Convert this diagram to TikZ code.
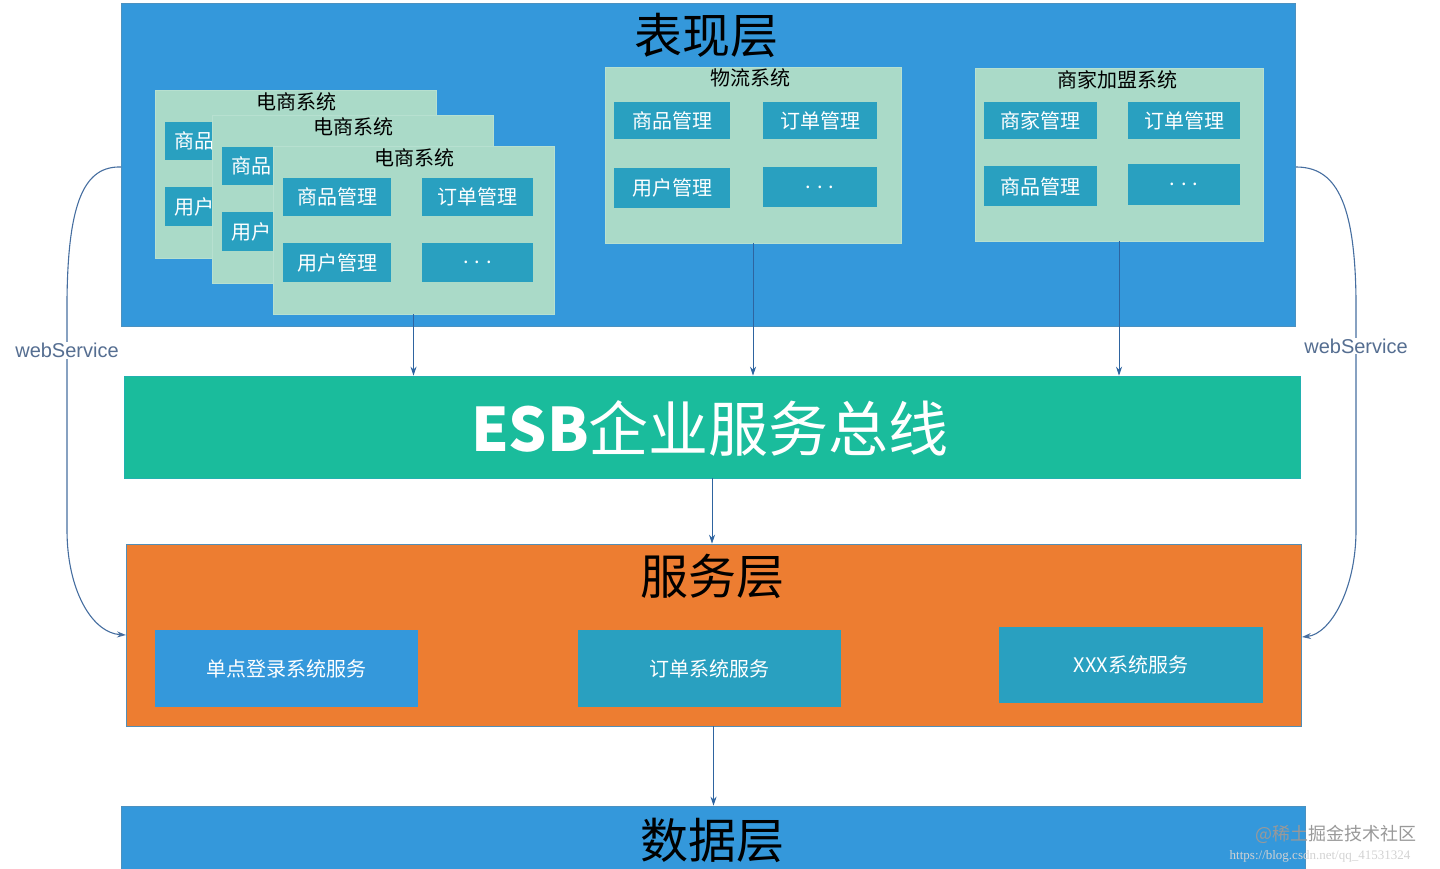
\documentclass[tikz,border=0pt]{standalone}
\usepackage{fontspec}
\setmainfont{Noto Sans CJK SC}
\newfontfamily\latinsans{Liberation Sans}
\newfontfamily\latinserif{Liberation Serif}
\usetikzlibrary{arrows.meta}
\newcommand\setfs[1]{\fontsize{#1}{#1}\selectfont}

\definecolor{layerblue}{RGB}{52,152,219}
\definecolor{busgreen}{RGB}{26,188,156}
\definecolor{serviceorange}{RGB}{237,125,49}
\definecolor{cardgreen}{RGB}{170,218,200}
\definecolor{moduleteal}{RGB}{41,160,192}
\definecolor{arrowblue}{RGB}{46,100,160}
\definecolor{wsblue}{RGB}{70,110,160}
\definecolor{wstext}{RGB}{85,110,145}

\tikzset{
  layer/.style={draw=layerblue!70!gray, line width=0.6pt, inner sep=0},
  card/.style={fill=cardgreen, draw=cardgreen!85!white, line width=0.8pt, inner sep=0},
  cardtitle/.style={font=\setfs{20}, text=black, inner sep=0},
  module/.style={fill=moduleteal, text=white, font=\setfs{20}, inner sep=0},
  modtext/.style={text=white, font=\setfs{20}, inner sep=0},
  servicebox/.style={text=white, font=\setfs{20}, inner sep=0, minimum width=263pt, minimum height=77pt},
  layertitle/.style={font=\setfs{48}, text=black, inner sep=0},
  arrow/.style={draw=arrowblue, line width=0.9pt, ->},
  wsline/.style={draw=wsblue, line width=1.1pt, ->},
  wslabel/.style={fill=white, inner sep=1pt, text=wstext, font=\latinsans\setfs{20}},
}

\begin{document}
\begin{tikzpicture}[x=1pt, y=-1pt, >={Stealth[length=9pt,width=6pt]}]
  \useasboundingbox (0,0) rectangle (1440,869);

  % layers
  \node[layer, fill=layerblue, minimum width=1174pt, minimum height=323pt] (show) at (708,164.5) {};
  \node[layer, fill=busgreen, draw=busgreen!70!layerblue, minimum width=1176pt, minimum height=102pt] (esb) at (712,427) {};
  \node[layer, fill=serviceorange, draw=layerblue!60!gray, minimum width=1175pt, minimum height=182pt] (service) at (713.5,635) {};
  \node[layer, fill=layerblue, minimum width=1184pt, minimum height=74pt] (data) at (713,843) {};

  \node[layertitle] (showtitle) at (706,35) {表现层};
  \node[layertitle] (servicetitle) at (712,576) {服务层};
  \node[layertitle] (datatitle) at (712,840) {数据层};
  \node[font=\setfs{60}, text=white, inner sep=0] (esbtitle) at (710,428) {{\bfseries ESB}企业服务总线};

  % e-commerce systems, stacked (the two behind are partly hidden)
  \foreach \i/\cx/\cy in {1/155/90, 2/212/115} {
    \begin{scope}[shift={(\cx,\cy)}]
      \node[card, minimum width=281pt, minimum height=168pt] (shop\i) at (140.5,84) {};
      \node[cardtitle] (shop\i title) at (141,12) {电商系统};
      \node[module, minimum width=108pt, minimum height=38pt] (shop\i goods) at (64,51) {};
      \node[module, minimum width=108pt, minimum height=39pt] (shop\i user) at (64,116.5) {};
      \node[modtext, anchor=west] (shop\i goodstext) at ([xshift=9pt]shop\i goods.west) {商品};
      \node[modtext, anchor=west] (shop\i usertext) at ([xshift=9pt]shop\i user.west) {用户};
    \end{scope}
  }
  \begin{scope}[shift={(273,146)}]
    \node[card, minimum width=281pt, minimum height=168pt] (shop3) at (140.5,84) {};
    \node[cardtitle] (shop3title) at (141,12) {电商系统};
    \node[module, minimum width=108pt, minimum height=38pt] (shop3goods) at (64,51) {商品管理};
    \node[module, minimum width=111pt, minimum height=38pt] (shop3order) at (204.5,51) {订单管理};
    \node[module, minimum width=108pt, minimum height=39pt] (shop3user) at (64,116.5) {用户管理};
    \node[module, minimum width=111pt, minimum height=39pt] (shop3more) at (204.5,116.5) {. . .};
  \end{scope}

  % logistics system
  \node[card, minimum width=296pt, minimum height=176pt] (logistics) at (753,155) {};
  \node[cardtitle] (logisticstitle) at (750,78) {物流系统};
  \node[module, minimum width=116pt, minimum height=37pt] (lgoods) at (672,120.5) {商品管理};
  \node[module, minimum width=114pt, minimum height=37pt] (lorder) at (820,120.5) {订单管理};
  \node[module, minimum width=116pt, minimum height=40pt] (luser) at (672,188) {用户管理};
  \node[module, minimum width=114pt, minimum height=40pt] (lmore) at (820,187) {. . .};

  % merchant system
  \node[card, minimum width=288pt, minimum height=173pt] (merchant) at (1119,154.5) {};
  \node[cardtitle] (merchanttitle) at (1117,80) {商家加盟系统};
  \node[module, minimum width=113pt, minimum height=37pt] (mshop) at (1040.5,120.5) {商家管理};
  \node[module, minimum width=112pt, minimum height=37pt] (morder) at (1184,120.5) {订单管理};
  \node[module, minimum width=113pt, minimum height=40pt] (mgoods) at (1040.5,186.5) {商品管理};
  \node[module, minimum width=112pt, minimum height=41pt] (mmore) at (1184,184.5) {. . .};

  % services
  \node[servicebox, fill=layerblue] (sso) at (286.5,668.5) {单点登录系统服务};
  \node[servicebox, fill=moduleteal] (orderservice) at (709.5,668.5) {订单系统服务};
  \node[servicebox, fill=moduleteal, minimum width=264pt, minimum height=76pt] (xxxservice) at (1131,665) {XXX系统服务};

  % arrows
  \draw[arrow] (shop3.south) -- (shop3.south |- esb.north);
  \draw[arrow] (logistics.south) -- (logistics.south |- esb.north);
  \draw[arrow] (merchant.south) -- (merchant.south |- esb.north);
  \draw[arrow] (esb.south) -- (esb.south |- service.north);
  \draw[arrow] (service.south) -- (service.south |- data.north);

  % webService
  \coordinate (wsL1) at (121,167);
  \coordinate (wsL2) at (126,635);
  \coordinate (wsR1) at (1296,167);
  \coordinate (wsR2) at (1302,637);
  \draw[wsline] (wsL1) .. controls (85,166) and (68,200) .. (67,300)
    -- node[wslabel, pos=0.22] (wsLtext) {webService} (67,530)
    .. controls (67,590) and (92,633) .. (wsL2);
  \draw[wsline] (wsR1) .. controls (1335,167) and (1355,200) .. (1356,300)
    -- node[wslabel, pos=0.2] (wsRtext) {webService} (1356,530)
    .. controls (1356,590) and (1330,634) .. (wsR2);

  % watermark
  \node[font=\setfs{18}, text=gray!80, inner sep=0] (mark) at (1336,834) {@稀土掘金技术社区};
  \node[font=\latinserif\setfs{13}, text=gray!35, inner sep=0] (url) at (1320,856) {https://blog.csdn.net/qq\_41531324};
\end{tikzpicture}
\end{document}
